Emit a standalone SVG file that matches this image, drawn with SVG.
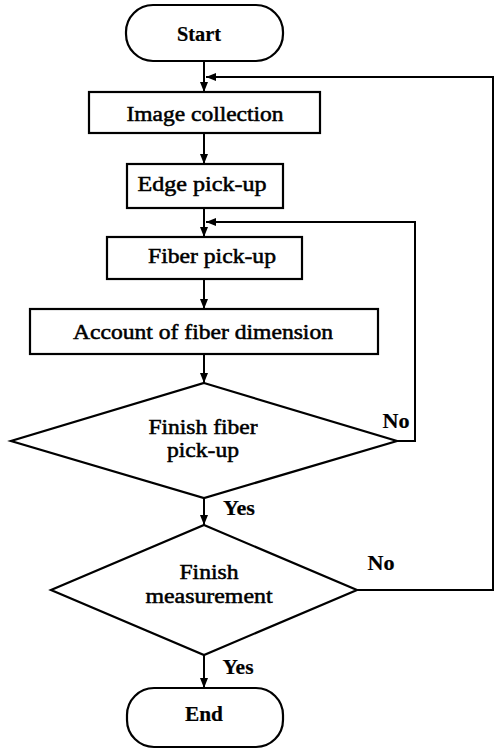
<svg xmlns="http://www.w3.org/2000/svg" width="495" height="751" viewBox="0 0 495 751">
<defs>
<marker id="arr" viewBox="0 0 10 8" refX="10" refY="4" markerWidth="10" markerHeight="8" markerUnits="userSpaceOnUse" orient="auto">
<path d="M0,0 L10,4 L0,8 Z" fill="#000"/>
</marker>
<style>
.shape{fill:#fff;stroke:#000;stroke-width:2.2}
.line{fill:none;stroke:#000;stroke-width:2}
text{font-family:'Liberation Serif','DejaVu Serif',serif;font-size:20px;fill:#000;text-anchor:middle;stroke:#000;stroke-width:0.5}
.b{font-weight:bold;stroke-width:0.2}
</style>
</defs>
<rect width="495" height="751" fill="#fff"/>
<g id="connectors">
<line class="line" x1="204" y1="61" x2="204" y2="92" marker-end="url(#arr)"/>
<polyline class="line" points="357,590 493,590 493,77 206,77" marker-end="url(#arr)"/>
<line class="line" x1="204" y1="133" x2="204" y2="164" marker-end="url(#arr)"/>
<line class="line" x1="204" y1="208" x2="204" y2="237" marker-end="url(#arr)"/>
<polyline class="line" points="397,441 415,441 415,222 206,222" marker-end="url(#arr)"/>
<line class="line" x1="204" y1="279" x2="204" y2="309" marker-end="url(#arr)"/>
<line class="line" x1="204" y1="354" x2="204" y2="383" marker-end="url(#arr)"/>
<line class="line" x1="204" y1="498" x2="204" y2="525" marker-end="url(#arr)"/>
<line class="line" x1="204" y1="655" x2="204" y2="688" marker-end="url(#arr)"/>
<text class="b" x="396" y="428" textLength="27" lengthAdjust="spacingAndGlyphs">No</text>
<text class="b" x="239" y="515" textLength="32" lengthAdjust="spacingAndGlyphs">Yes</text>
<text class="b" x="381" y="570" textLength="27" lengthAdjust="spacingAndGlyphs">No</text>
<text class="b" x="238" y="674" textLength="31" lengthAdjust="spacingAndGlyphs">Yes</text>
</g>
<g id="start">
<rect class="shape" x="126" y="5" width="157" height="56" rx="27"/>
<text class="b" x="199" y="41" textLength="44" lengthAdjust="spacingAndGlyphs">Start</text>
</g>
<g id="image-collection">
<rect class="shape" x="89" y="92" width="231" height="41"/>
<text x="205" y="121" textLength="157" lengthAdjust="spacingAndGlyphs">Image collection</text>
</g>
<g id="edge-pickup">
<rect class="shape" x="127" y="164" width="156" height="44"/>
<text x="202" y="191" textLength="129" lengthAdjust="spacingAndGlyphs">Edge pick-up</text>
</g>
<g id="fiber-pickup">
<rect class="shape" x="107" y="237" width="195" height="42"/>
<text x="212" y="263" textLength="128" lengthAdjust="spacingAndGlyphs">Fiber pick-up</text>
</g>
<g id="account">
<rect class="shape" x="30" y="309" width="348" height="45"/>
<text x="203" y="339" textLength="260" lengthAdjust="spacingAndGlyphs">Account of fiber dimension</text>
</g>
<g id="finish-fiber">
<polygon class="shape" points="204,383 397,441 204,498 11,441"/>
<text x="203" y="434" textLength="109" lengthAdjust="spacingAndGlyphs">Finish fiber</text>
<text x="203" y="457" textLength="72" lengthAdjust="spacingAndGlyphs">pick-up</text>
</g>
<g id="finish-measurement">
<polygon class="shape" points="204,525 357,590 204,655 51,590"/>
<text x="209" y="579" textLength="59" lengthAdjust="spacingAndGlyphs">Finish</text>
<text x="209" y="603" textLength="127" lengthAdjust="spacingAndGlyphs">measurement</text>
</g>
<g id="end">
<rect class="shape" x="127" y="688" width="156" height="59" rx="27"/>
<text class="b" x="204" y="721" textLength="38" lengthAdjust="spacingAndGlyphs">End</text>
</g>
</svg>
